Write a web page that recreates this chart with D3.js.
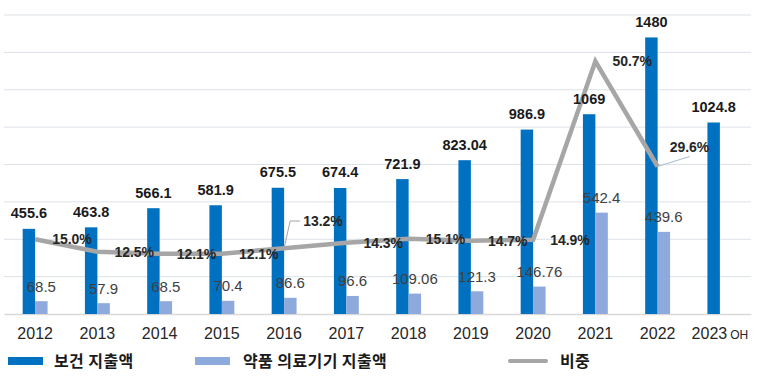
<!DOCTYPE html>
<html>
<head>
<meta charset="utf-8">
<script src="https://cdn.jsdelivr.net/npm/d3@7"></script>
<style>
  body { margin: 0; background: #fff; }
  svg { display: block; font-family: "Liberation Sans", Arial, sans-serif; }
</style>
</head>
<body>
<div id="chart"></div>
<script>
// chart data
const years = ["2012", "2013", "2014", "2015", "2016", "2017", "2018", "2019", "2020", "2021", "2022", "2023"];
const healthSpend = [455.6, 463.8, 566.1, 581.9, 675.5, 674.4, 721.9, 823.04, 986.9, 1069, 1480, 1024.8];
const drugSpend = [68.5, 57.9, 68.5, 70.4, 86.6, 96.6, 109.06, 121.3, 146.76, 542.4, 439.6, null];
const shareYears = years.slice(0, 11);
const share = [15.0, 12.5, 12.1, 12.1, 13.2, 14.3, 15.1, 14.7, 14.9, 50.7, 29.6];
const seriesNames = ["보건 지출액", "약품 의료기기 지출액", "비중"];

const WIDTH = 760, HEIGHT = 382;
const BLUE = "#0070C0", LIGHT = "#8EA9DB", GRAY = "#A6A6A6";

const svg = d3.select("#chart").append("svg")
  .attr("width", WIDTH)
  .attr("height", HEIGHT);

const x = d3.scaleBand().domain(years).range([4, 751]).padding(0);
const y = d3.scaleLinear().domain([0, 1600]).range([314, 15]);
const y2 = d3.scaleLinear().domain([0, 60]).range([314, 15]);
const bw = x.bandwidth() * 0.2;
const cx = d => x(d) + x.bandwidth() / 2;

// gridlines
svg.append("g")
  .selectAll("line")
  .data(d3.range(200, 1601, 200))
  .join("line")
    .attr("x1", 4).attr("x2", 751)
    .attr("y1", d => y(d)).attr("y2", d => y(d))
    .attr("stroke", "#DCE1E8")
    .attr("stroke-width", 1);

// x axis
const xAxis = svg.append("g")
  .attr("transform", `translate(0,${y(0)})`)
  .call(d3.axisBottom(x).tickSize(0).tickPadding(14).tickFormat(d => d));
xAxis.select(".domain").attr("stroke", "#D9D9D9").attr("stroke-width", 1.5);
xAxis.selectAll("text")
  .attr("font-size", "16px")
  .attr("fill", "#262626")
  .attr("font-family", "Liberation Sans, Arial, sans-serif");
// "2023 OH" tick has a small suffix
xAxis.selectAll(".tick text")
  .filter(d => d === "2023")
  .text(null)
  .call(t => {
    t.append("tspan").text("2023");
    t.append("tspan").attr("font-size", "12px").attr("dx", 3).text("OH");
  });

// blue bars
svg.append("g")
  .selectAll("rect")
  .data(years.map((d, i) => ({year: d, v: healthSpend[i]})))
  .join("rect")
    .attr("x", d => cx(d.year) - bw)
    .attr("y", d => y(d.v))
    .attr("width", bw)
    .attr("height", d => y(0) - y(d.v))
    .attr("fill", BLUE);

// light bars
const drugData = years.map((d, i) => ({year: d, v: drugSpend[i]})).filter(d => d.v != null);
svg.append("g")
  .selectAll("rect")
  .data(drugData)
  .join("rect")
    .attr("x", d => cx(d.year))
    .attr("y", d => y(d.v))
    .attr("width", bw)
    .attr("height", d => y(0) - y(d.v))
    .attr("fill", LIGHT);

// share line
const lineData = shareYears.map((d, i) => ({year: d, v: share[i]}));
svg.append("path")
  .datum(lineData)
  .attr("fill", "none")
  .attr("stroke", GRAY)
  .attr("stroke-width", 4.5)
  .attr("stroke-linejoin", "miter")
  .attr("d", d3.line().x(d => cx(d.year)).y(d => y2(d.v)));

// blue labels
svg.append("g")
  .selectAll("text")
  .data(years.map((d, i) => ({year: d, v: healthSpend[i]})))
  .join("text")
    .attr("x", d => cx(d.year) - bw / 2)
    .attr("y", d => y(d.v) - 10.5)
    .attr("text-anchor", "middle")
    .attr("font-size", "14.5px")
    .attr("font-weight", "bold")
    .attr("fill", "#1A1A1A")
    .text(d => String(d.v));

// light labels
svg.append("g")
  .selectAll("text")
  .data(drugData)
  .join("text")
    .attr("x", d => cx(d.year) + bw / 2)
    .attr("y", d => y(d.v) - 9.5)
    .attr("text-anchor", "middle")
    .attr("font-size", "15px")
    .attr("fill", "#404040")
    .text(d => String(d.v));

// leader lines for moved labels (index 4 and 10)
const p4 = lineData[4], p10 = lineData[10];
svg.append("polyline")
  .attr("points", [[cx(p4.year), y2(p4.v)], [cx(p4.year) + 6, 221], [cx(p4.year) + 16, 221]].join(" "))
  .attr("fill", "none").attr("stroke", "#A6A6A6").attr("stroke-width", 1);
svg.append("line")
  .attr("x1", cx(p10.year)).attr("y1", y2(p10.v))
  .attr("x2", cx(p10.year) + 32).attr("y2", y2(p10.v) - 10)
  .attr("stroke", "#A9B8CC").attr("stroke-width", 1);

// share labels
svg.append("g")
  .selectAll("text")
  .data(lineData)
  .join("text")
    .attr("x", (d, i) => i === 4 ? cx(d.year) + 19 : i === 10 ? cx(d.year) + 12 : cx(d.year) + 17)
    .attr("y", (d, i) => i === 4 ? 226 : i === 10 ? 152 : y2(d.v) + 5)
    .attr("font-size", "14px")
    .attr("font-weight", "bold")
    .attr("fill", "#262626")
    .text(d => d.v.toFixed(1) + "%");

// legend
const legend = svg.append("g")
  .attr("font-family", "'Noto Sans CJK KR', sans-serif")
  .attr("font-size", "16px")
  .attr("font-weight", "bold")
  .attr("letter-spacing", "0.4px")
  .attr("fill", "#1A1A1A");

legend.append("rect").attr("x", 8).attr("y", 357).attr("width", 35).attr("height", 8).attr("fill", BLUE);
legend.append("text").attr("x", 54).attr("y", 367).text(seriesNames[0]);
legend.append("rect").attr("x", 195).attr("y", 357).attr("width", 35).attr("height", 8).attr("fill", LIGHT);
legend.append("text").attr("x", 243).attr("y", 367).text(seriesNames[1]);
legend.append("line").attr("x1", 510).attr("x2", 546).attr("y1", 361).attr("y2", 361)
  .attr("stroke", GRAY).attr("stroke-width", 4).attr("stroke-linecap", "round");
legend.append("text").attr("x", 560).attr("y", 367).text(seriesNames[2]);
</script>
</body>
</html>
